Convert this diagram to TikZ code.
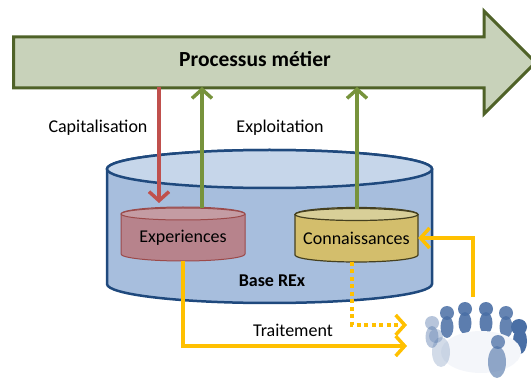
\documentclass[tikz,border=0pt]{standalone}
\usepackage{fontspec}
\setmainfont{Carlito}
\usetikzlibrary{shapes.arrows,arrows.meta}

\definecolor{sauge}{HTML}{C8D2BA}
\definecolor{sapin}{HTML}{4F6228}
\definecolor{rouge}{HTML}{C0504D}
\definecolor{vert}{HTML}{77933C}
\definecolor{orange}{HTML}{FFC000}
\definecolor{marine}{HTML}{1F497D}
\definecolor{bleucorps}{HTML}{A7BEDD}
\definecolor{bleuhaut}{HTML}{C6D6EA}
\definecolor{rose}{HTML}{B7838C}
\definecolor{rosehaut}{HTML}{C49CA3}
\definecolor{bordeaux}{HTML}{9B4A4A}
\definecolor{ocre}{HTML}{D3BE6C}
\definecolor{ocrehaut}{HTML}{D8CF98}
\definecolor{kaki}{HTML}{45401F}
\definecolor{acier}{HTML}{4A6FA5}

\begin{document}
\begin{tikzpicture}[x=1pt, y=-1pt,
    every node/.style={font=\fontsize{18}{20}\selectfont},
    fleche/.style={line width=3.5pt, -{Straight Barb[length=9pt, width=20pt]}},
    pointille/.style={dash pattern=on 4pt off 3.5pt},
    pers/.style={fill=acier}]
  \useasboundingbox (0,0) rectangle (531,385);

  % Grande flèche du processus
  \node[single arrow, draw=sapin, fill=sauge, line width=3pt, anchor=tail,
        minimum height=522pt, inner ysep=24pt, inner xsep=0pt,
        single arrow head extend=26pt, single arrow head indent=0pt] (fl) at (12,62.5) {};
  \node[font=\bfseries\fontsize{21.5}{24}\selectfont] (processus) at (255,59) {Processus métier};

  % Base REx (grand cylindre)
  \draw[marine, line width=2.5pt, fill=bleucorps] (107,169) -- (107,284)
    arc[start angle=180, end angle=360, x radius=162.5pt, y radius=19pt]
    -- (432,169) arc[start angle=0, end angle=180, x radius=162.5pt, y radius=19pt] -- cycle;
  \draw[marine, line width=2.5pt, fill=bleuhaut] (269.5,169) ellipse (162.5 and 19);

  % Cylindre des experiences
  \draw[bordeaux, line width=1pt, fill=rose] (121,214) -- (121,254)
    arc[start angle=180, end angle=360, x radius=62pt, y radius=7pt]
    -- (245,214) arc[start angle=0, end angle=180, x radius=62pt, y radius=7pt] -- cycle;
  \draw[bordeaux, line width=1pt, fill=rosehaut] (183,214) ellipse (62 and 6);

  % Cylindre des connaissances
  \draw[kaki, line width=1.2pt, fill=ocre] (295,214.5) -- (295,255)
    arc[start angle=180, end angle=360, x radius=61.5pt, y radius=7pt]
    -- (418,214.5) arc[start angle=0, end angle=180, x radius=61.5pt, y radius=7pt] -- cycle;
  \draw[kaki, line width=1.2pt, fill=ocrehaut] (356.5,214.5) ellipse (61.5 and 6);

  \node[minimum width=124pt, minimum height=40pt] (exp) at (183,238) {Experiences};
  \node[minimum width=123pt, minimum height=40pt] (conn) at (356.5,238) {Connaissances};
  \node[font=\bfseries\fontsize{18}{20}\selectfont] (baserex) at (272,281) {Base REx};

  % Libellés
  \node (capi) at (98,128) {Capitalisation};
  \node (exploi) at (280,128) {Exploitation};
  \node (traitement) at (293,330) {Traitement};

  % Points d'attache
  \coordinate (p1) at (159,87);
  \coordinate (p2) at (202,87);
  \coordinate (p3) at (357,87);
  \coordinate (e1) at (159,203);
  \coordinate (e2) at (202,208);
  \coordinate (e3) at (357,209);
  \coordinate (s1) at (183,261);
  \coordinate (s2) at (352,262);
  \coordinate (t1) at (407,346);
  \coordinate (t2) at (407,325);

  % Équipe autour de la table
  \node[minimum width=100pt, minimum height=88pt] (equipe) at (473,341) {};
  \foreach \x/\y/\o in {432/323/0.4, 447/313/0.85, 465/309/0.9, 486/309/0.9,
                        506/313/0.85}{
    \fill[pers, opacity=\o] (\x,\y+14) ellipse (6.5 and 11);
    \fill[pers, opacity=\o] (\x,\y) circle (7);
  }
  \fill[pers] (520,341) ellipse (7 and 13);
  \fill[pers] (519,327) circle (8);
  \fill[acier!6] (481,352) ellipse (40 and 21);
  \fill[pers, opacity=0.25] (441,352) ellipse (9 and 15);
  \fill[pers, opacity=0.3] (436,336) circle (7);
  \fill[pers, opacity=0.6] (497,362) ellipse (9 and 16);
  \fill[pers, opacity=0.75] (498,342) circle (7);

  % Flèches
  \draw[fleche, rouge] (p1) -- (e1);
  \draw[fleche, vert] (e2) -- (p2);
  \draw[fleche, vert] (e3) -- (p3);
  \draw[fleche, orange] (s1) |- (t1);
  \draw[fleche, orange, pointille] (s2) |- (t2);
  \draw[fleche, orange] (equipe.north) |- (conn.east);
\end{tikzpicture}
\end{document}
